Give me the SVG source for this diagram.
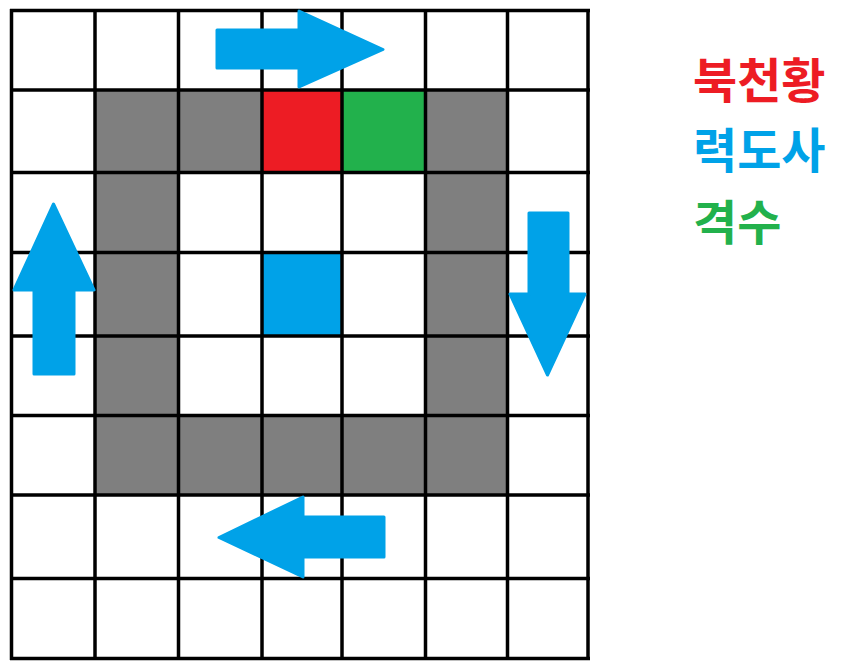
<svg xmlns="http://www.w3.org/2000/svg" width="850" height="667" viewBox="0 0 850 667">
<style>
.gray{fill:#7f7f7f}
.grid line{stroke:#000;stroke-width:3.5}
.arrow{fill:#00a2e8;stroke:#00a2e8;stroke-width:3;stroke-linejoin:round}
.lbl{font-family:"Noto Sans CJK KR","Noto Sans",sans-serif;font-weight:700;font-size:48px}
</style>
<rect width="850" height="667" fill="#fff"/>
<g id="cells">
<rect class="gray" x="95" y="90" width="83.5" height="82.5"/>
<rect class="gray" x="178.5" y="90" width="83.5" height="82.5"/>
<rect x="262" y="90" width="80" height="82.5" fill="#ed1c24"/>
<rect x="342" y="90" width="83.5" height="82.5" fill="#22b14c"/>
<rect class="gray" x="425.5" y="90" width="82" height="82.5"/>
<rect class="gray" x="95" y="172.5" width="83.5" height="243"/>
<rect class="gray" x="425.5" y="172.5" width="82" height="243"/>
<rect class="gray" x="95" y="415.5" width="412.5" height="79.5"/>
<rect x="262" y="252.5" width="80" height="83.5" fill="#00a2e8"/>
</g>
<g class="grid">
<line x1="11.5" y1="9" x2="11.5" y2="660"/>
<line x1="95" y1="9" x2="95" y2="660"/>
<line x1="178.5" y1="9" x2="178.5" y2="660"/>
<line x1="262" y1="9" x2="262" y2="660"/>
<line x1="342" y1="9" x2="342" y2="660"/>
<line x1="425.5" y1="9" x2="425.5" y2="660"/>
<line x1="507.5" y1="9" x2="507.5" y2="660"/>
<line x1="588" y1="9" x2="588" y2="660"/>
<line x1="10" y1="10.5" x2="590" y2="10.5"/>
<line x1="10" y1="90" x2="590" y2="90"/>
<line x1="10" y1="172.5" x2="590" y2="172.5"/>
<line x1="10" y1="252.5" x2="590" y2="252.5"/>
<line x1="10" y1="336" x2="590" y2="336"/>
<line x1="10" y1="415.5" x2="590" y2="415.5"/>
<line x1="10" y1="495" x2="590" y2="495"/>
<line x1="10" y1="578.5" x2="590" y2="578.5"/>
<line x1="10" y1="658.5" x2="590" y2="658.5"/>
</g>
<g id="arrows">
<polygon class="arrow" points="217,30 299,30 299,11 383,49.5 299,87 299,68 217,68"/>
<polygon class="arrow" points="568,213 568,294 585,294 547.5,375 510,294 529,294 529,213"/>
<polygon class="arrow" points="384,517 384,557 303,557 303,577 219,537.5 303,497 303,517"/>
<polygon class="arrow" points="34,374 34,290 14,290 53.5,204 94,290 74,290 74,374"/>
</g>
<g id="legend">
<text class="lbl" x="693" y="98" fill="#ed1c24">북천황</text>
<text class="lbl" x="693" y="168" fill="#00a2e8">력도사</text>
<text class="lbl" x="693" y="240" fill="#22b14c">격수</text>
</g>
</svg>
